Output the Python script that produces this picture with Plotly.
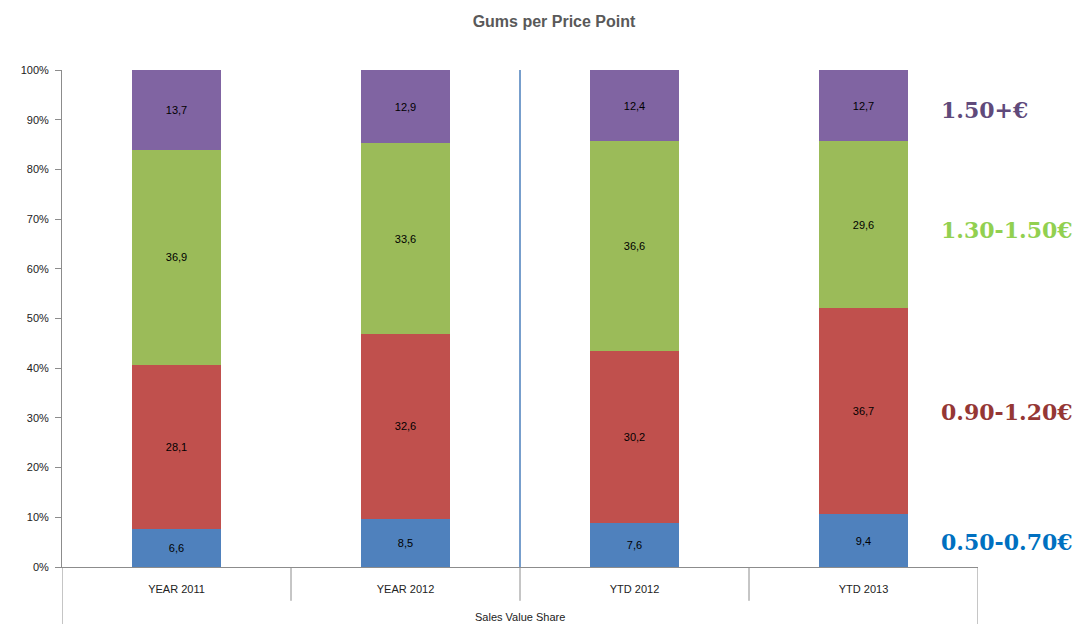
import plotly.graph_objects as go

# Sales value share per price point (100% stacked)
periods = ["YEAR 2011", "YEAR 2012", "YTD 2012", "YTD 2013"]
band_050_070 = [6.6, 8.5, 7.6, 9.4]
band_090_120 = [28.1, 32.6, 30.2, 36.7]
band_130_150 = [36.9, 33.6, 36.6, 29.6]
band_150_plus = [13.7, 12.9, 12.4, 12.7]

series = [
    ("0.50-0.70€", band_050_070, "#4f81bd"),
    ("0.90-1.20€", band_090_120, "#c0504d"),
    ("1.30-1.50€", band_130_150, "#9bbb59"),
    ("1.50+€", band_150_plus, "#8064a2"),
]

fig = go.Figure()
for name, vals, color in series:
    fig.add_trace(go.Bar(
        x=periods, y=vals, name=name,
        marker=dict(color=color, line=dict(width=0)),
        width=0.385,
        text=[f"{v:.1f}".replace(".", ",") for v in vals],
        textposition="inside", insidetextanchor="middle", textangle=0,
        textfont=dict(family="Liberation Sans, Arial", size=11, color="#000000"),
        hoverinfo="skip",
    ))

grey = "#8c8c8c"
shapes = []
# category dividers below the axis
for xv in [0.5, 1.5, 2.5]:
    shapes.append(dict(type="line", xref="x", yref="paper", x0=xv, x1=xv,
                       y0=0, y1=-0.068, line=dict(color=grey, width=1)))
# outer frame lines of the category table
for xv in [-0.5, 3.5]:
    shapes.append(dict(type="line", xref="x", yref="paper", x0=xv, x1=xv,
                       y0=0, y1=-0.12, line=dict(color=grey, width=1)))
# separator between full-year and year-to-date
shapes.append(dict(type="line", xref="x", yref="paper", x0=1.5, x1=1.5,
                   y0=0, y1=1, line=dict(color="#4a7ebb", width=1.5)))

annotations = [
    dict(text="Sales Value Share", xref="paper", yref="paper", x=0.5, y=-0.10,
         xanchor="center", yanchor="middle", showarrow=False,
         font=dict(family="Liberation Sans, Arial", size=11, color="#222222")),
]
label_specs = [
    ("1.50+€", 0.92, "#604a7b"),
    ("1.30-1.50€", 0.678, "#92d050"),
    ("0.90-1.20€", 0.312, "#953735"),
    ("0.50-0.70€", 0.05, "#0070c0"),
]
for txt, yp, col in label_specs:
    annotations.append(dict(text=f"<b>{txt}</b>", xref="paper", yref="paper",
                            x=0.957, y=yp, xanchor="left", yanchor="middle",
                            showarrow=False,
                            font=dict(family="DejaVu Serif", size=22, color=col)))

fig.update_layout(
    barmode="stack", barnorm="percent",
    width=1081, height=624,
    margin=dict(l=62, r=103, t=70, b=57),
    paper_bgcolor="white", plot_bgcolor="white",
    showlegend=False,
    title=dict(text="<b>Gums per Price Point</b>", x=0.5125, xanchor="center",
               y=0.965, yanchor="middle",
               font=dict(family="Liberation Sans, Arial", size=16, color="#595959")),
    shapes=shapes, annotations=annotations,
)
fig.update_xaxes(
    type="category", range=[-0.5, 3.5], showline=True, linecolor=grey, linewidth=1,
    ticks="", showgrid=False, ticklabelstandoff=12,
    tickfont=dict(family="Liberation Sans, Arial", size=11, color="#222222"),
)
fig.update_yaxes(
    range=[0, 100], dtick=10, ticksuffix="%", showline=True, linecolor=grey,
    linewidth=1, ticks="outside", ticklen=6, tickcolor=grey, showgrid=False,
    zeroline=False, ticklabelstandoff=4,
    tickfont=dict(family="Liberation Sans, Arial", size=11, color="#222222"),
)

fig.write_html("out.html")
